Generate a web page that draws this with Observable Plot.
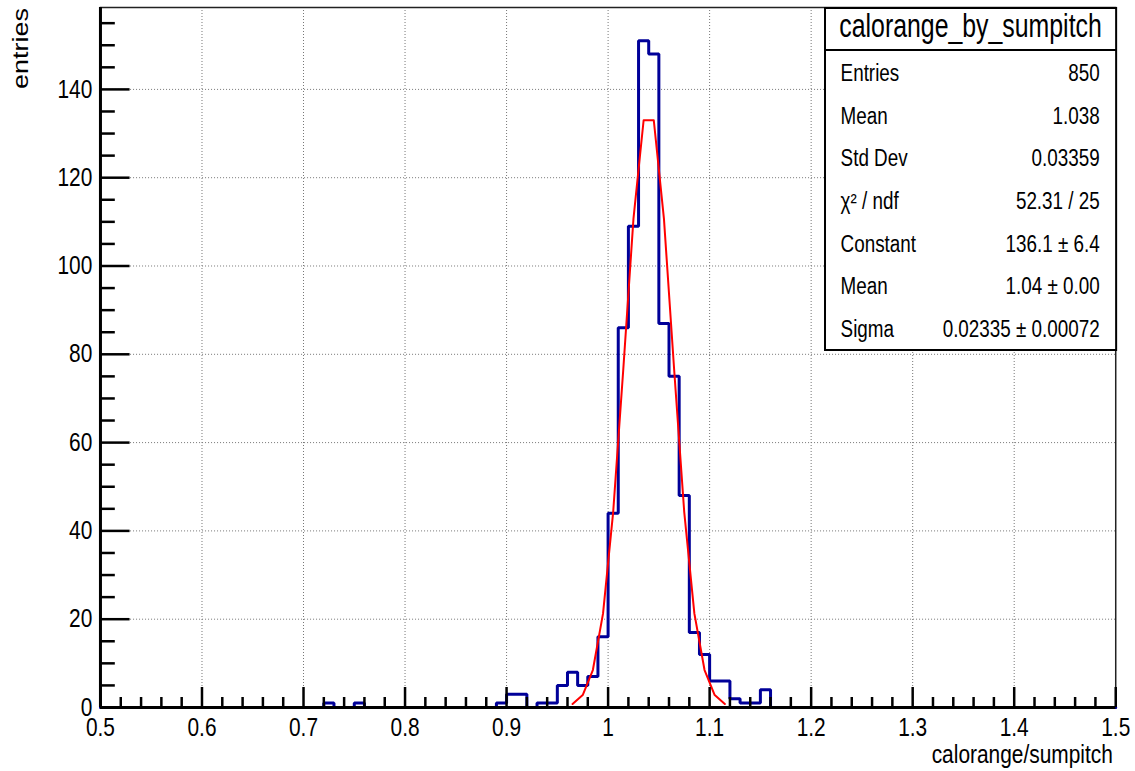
<!DOCTYPE html>
<html>
<head>
<meta charset="utf-8">
<script src="https://cdn.jsdelivr.net/npm/d3@7"></script>
<script src="https://cdn.jsdelivr.net/npm/@observablehq/plot@0.6"></script>
<style>
  html, body { margin: 0; padding: 0; background: white; overflow: hidden; }
  #chart svg line, #chart svg path, #chart svg rect { vector-effect: non-scaling-stroke; }
</style>
</head>
<body>
<div id="chart"></div>
<script>
// Histogram of calorange/sumpitch: 100 bins of width 0.01 on [0.5, 1.5].
// Only the non-empty bins are listed (lower edge, entries).
const binLow   = [0.72, 0.75, 0.89, 0.90, 0.91, 0.93, 0.94, 0.95, 0.96, 0.97,
                  0.98, 0.99, 1.00, 1.01, 1.02, 1.03, 1.04, 1.05, 1.06, 1.07,
                  1.08, 1.09, 1.10, 1.11, 1.12, 1.13, 1.14, 1.15];
const binCount = [1, 1, 1, 3, 3, 1, 1, 5, 8, 5,
                  7, 16, 44, 86, 109, 151, 148, 87, 75, 48,
                  17, 12, 6, 6, 2, 1, 1, 4];

// Gaussian fit result
const fitConstant = 136.1;
const fitMean = 1.04;
const fitSigma = 0.02335;
const fitRange = [0.96, 1.12];

// Statistics box
const boxTitle = "calorange_by_sumpitch";
const statLabels = ["Entries", "Mean", "Std Dev", "χ² / ndf", "Constant", "Mean", "Sigma"];
const statValues = ["850", "1.038", "0.03359", "52.31 / 25",
                    fitConstant.toFixed(1) + " ± 6.4",
                    fitMean.toFixed(2) + " ± 0.00",
                    fitSigma.toFixed(5) + " ± 0.00072"];

// Axes
const xMajorTicks = [0.5, 0.6, 0.7, 0.8, 0.9, 1, 1.1, 1.2, 1.3, 1.4, 1.5];
const yMajorTicks = [0, 20, 40, 60, 80, 100, 120, 140];
const xTitle = "calorange/sumpitch";
const yTitle = "entries";

// Canvas: drawn wide, then condensed horizontally into the page
const OUT_W = 1135, H = 771;
const SQUEEZE = 0.82;
const W = Math.round(OUT_W / SQUEEZE);
const mL = 122, mR = 24, mT = 7, mB = 64;
const plotW = W - mL - mR, plotH = H - mT - mB;
const FONT = "'Liberation Sans', Arial, Helvetica, sans-serif";

const xLo = 0.5, binW = 0.01, nBins = 100;
const yMax = 1.05 * d3.max(binCount);

// Full outline of the histogram (empty bins at zero)
const countAt = new Map(binLow.map((x, i) => [Math.round((x - xLo) / binW), binCount[i]]));
const hist = d3.range(nBins + 1).map(i => ({
  x: xLo + i * binW,
  n: countAt.get(Math.min(i, nBins - 1)) ?? 0
}));

// Fitted Gaussian sampled at the bin centres inside the fit range
const fitPts = d3.range(nBins)
  .map(i => xLo + (i + 0.5) * binW)
  .filter(x => x > fitRange[0] && x < fitRange[1])
  .map(x => ({x, y: fitConstant * Math.exp(-0.5 * ((x - fitMean) / fitSigma) ** 2)}));

// Minor ticks
const xMinor = d3.range(0, 51).map(i => +(xLo + i * 0.02).toFixed(2))
  .filter(v => !xMajorTicks.some(t => Math.abs(t - v) < 1e-9));
const yMinor = d3.range(0, 32).map(i => i * 5).filter(v => v % 20 !== 0 && v < yMax);

const tickStyle = {stroke: "black", strokeWidth: 2.5};
const gridStyle = {stroke: "#777", strokeOpacity: 1, strokeWidth: 1, strokeDasharray: "1,2"};

const chart = Plot.plot({
  width: W, height: H,
  marginLeft: mL, marginRight: mR, marginTop: mT, marginBottom: mB,
  x: {domain: [xLo, xLo + nBins * binW]},
  y: {domain: [0, yMax]},
  style: {fontFamily: FONT, fontSize: "25.5px", background: "white", color: "black", overflow: "visible"},
  marks: [
    Plot.gridX(xMajorTicks.slice(1, -1), gridStyle),
    Plot.gridY(yMajorTicks.slice(1), gridStyle),
    Plot.frame({stroke: "#222", strokeWidth: 1.5}),
    Plot.line(hist, {x: "x", y: "n", curve: "step-after", stroke: "#000099", strokeWidth: 3, strokeLinejoin: "miter"}),
    Plot.line(fitPts, {x: "x", y: "y", stroke: "#ff0000", strokeWidth: 2}),
    Plot.ruleX([xLo], {stroke: "black", strokeWidth: 3}),
    Plot.ruleY([0], {stroke: "black", strokeWidth: 3}),
    Plot.tickX(xMinor, {x: d => d, insetTop: plotH - 10, ...tickStyle}),
    Plot.tickX(xMajorTicks, {x: d => d, insetTop: plotH - 20, ...tickStyle}),
    Plot.tickY(yMinor, {y: d => d, insetRight: plotW - 18, ...tickStyle}),
    Plot.tickY(yMajorTicks, {y: d => d, insetRight: plotW - 36, ...tickStyle}),
    Plot.axisX(xMajorTicks, {tickSize: 0, tickPadding: 10, label: null, tickFormat: d => String(d)}),
    Plot.axisY(yMajorTicks, {tickSize: 0, tickPadding: 10, label: null, tickFormat: d => String(d)})
  ]
});

chart.setAttribute("width", OUT_W);
chart.setAttribute("preserveAspectRatio", "none");
chart.style.width = OUT_W + "px";
chart.style.height = H + "px";
chart.style.maxWidth = "none";

const svg = d3.select(chart);

// Axis titles
svg.append("text")
  .attr("x", W - mR - 3).attr("y", 763)
  .attr("text-anchor", "end")
  .attr("font-family", FONT).attr("font-size", 25.5)
  .attr("fill", "black")
  .text(xTitle);

svg.append("text")
  .attr("transform", `translate(34.5, ${mT + 1}) rotate(-90)`)
  .attr("text-anchor", "end")
  .attr("font-family", FONT).attr("font-size", 27)
  .attr("fill", "black")
  .text(yTitle);

// Statistics box
const boxW = 355, boxX = W - mR + 1 - boxW, boxY = mT + 1, boxH = 342, headH = 42;
const box = svg.append("g").attr("font-family", FONT).attr("fill", "black");
box.append("rect")
  .attr("x", boxX).attr("y", boxY).attr("width", boxW).attr("height", boxH)
  .attr("fill", "white").attr("stroke", "black").attr("stroke-width", 2);
box.append("line")
  .attr("x1", boxX).attr("x2", boxX + boxW)
  .attr("y1", boxY + headH).attr("y2", boxY + headH)
  .attr("stroke", "black").attr("stroke-width", 2);
box.append("text")
  .attr("x", boxX + boxW / 2).attr("y", boxY + 29)
  .attr("text-anchor", "middle").attr("font-size", 34)
  .attr("textLength", 320).attr("lengthAdjust", "spacingAndGlyphs")
  .text(boxTitle);
statLabels.forEach((label, i) => {
  const yb = 81 + 42.7 * i;
  box.append("text").attr("x", boxX + 19).attr("y", yb)
    .attr("text-anchor", "start").attr("font-size", 23).text(label);
  box.append("text").attr("x", boxX + boxW - 20).attr("y", yb)
    .attr("text-anchor", "end").attr("font-size", 23).text(statValues[i]);
});

document.getElementById("chart").appendChild(chart);
</script>
</body>
</html>
